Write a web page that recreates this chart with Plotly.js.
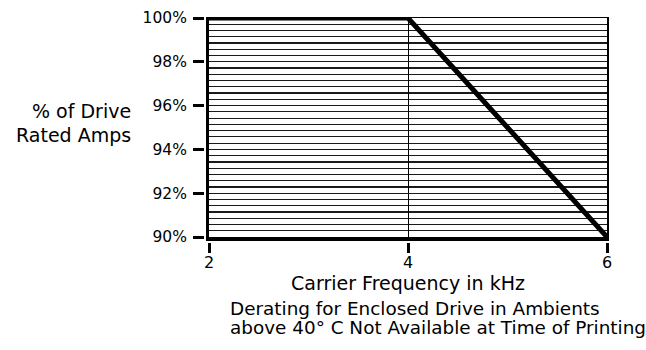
<!DOCTYPE html>
<html>
<head>
<meta charset="utf-8">
<script src="https://cdn.plot.ly/plotly-3.0.1.min.js"></script>
<style>html,body{margin:0;padding:0;background:#fff;}#chart{width:646px;height:350px;}</style>
</head>
<body>
<div id="chart"></div>
<script>
// Data
const frequencyKHz = [2, 4, 6];
const ratedAmpsPct = [100, 100, 90];
const xTickVals = [2, 4, 6];
const xTickText = ['2', '4', '6'];
const yTickVals = [90, 92, 94, 96, 98, 100];
const yTickText = ['90%', '92%', '94%', '96%', '98%', '100%'];
const yLabelLines = ['% of Drive', 'Rated Amps'];
const xTitle = 'Carrier Frequency in kHz';
const noteLines = ['Derating for Enclosed Drive in Ambients', 'above 40\u00b0 C Not Available at Time of Printing'];

const W = 646, H = 350;
const mL = 180, mR = 39, mT = 18, mB = 90;
const pw = W - mL - mR, ph = H - mT - mB;
const px = v => (v - mL) / pw;          // pixel x -> paper x
const py = v => 1 - (v - mT) / ph;      // pixel y -> paper y

const font = {family: 'DejaVu Sans, Arial, sans-serif', color: '#000'};
const xDom = [px(209), 1];
const yDom = [py(237), 1];

const traces = [
  {x: frequencyKHz, y: ratedAmpsPct, type: 'scatter', mode: 'lines',
   line: {color: '#000', width: 5}, cliponaxis: false, hoverinfo: 'none', showlegend: false},
  // invisible carriers so the tick axes and frame axes get drawn
  {x: frequencyKHz, y: ratedAmpsPct, xaxis: 'x2', yaxis: 'y2', type: 'scatter', mode: 'none', hoverinfo: 'none', showlegend: false},
  {x: frequencyKHz, y: ratedAmpsPct, xaxis: 'x3', yaxis: 'y3', type: 'scatter', mode: 'none', hoverinfo: 'none', showlegend: false}
];

const layout = {
  width: W, height: H,
  margin: {l: mL, r: mR, t: mT, b: mB, pad: 0},
  paper_bgcolor: '#fff', plot_bgcolor: '#fff',
  font: Object.assign({size: 15}, font),
  showlegend: false,
  xaxis: {
    domain: xDom, range: [2, 6], tickvals: xTickVals, showticklabels: false, ticks: '',
    showline: true, linewidth: 4, linecolor: '#000', mirror: false,
    showgrid: true, gridcolor: '#000', gridwidth: 1, zeroline: false, fixedrange: true
  },
  yaxis: {
    domain: yDom, range: [90, 100], tick0: 90, dtick: 2, showticklabels: false, ticks: '',
    showline: true, linewidth: 3, linecolor: '#000',
    showgrid: true, gridcolor: '#1a1a1a', gridwidth: 1.2, zeroline: false, fixedrange: true,
    minor: {tick0: 90, dtick: 2 / 7, showgrid: true, gridcolor: '#1a1a1a', gridwidth: 1.2, ticks: ''}
  },
  xaxis2: {
    overlaying: 'x', anchor: 'free', position: py(242), side: 'bottom',
    range: [2, 6], tickvals: xTickVals, ticktext: xTickText,
    ticks: 'outside', ticklen: 10, tickwidth: 3, tickcolor: '#000', ticklabelstandoff: -4,
    showline: false, showgrid: false, zeroline: false, fixedrange: true,
    tickfont: Object.assign({size: 16}, font),
    title: {text: xTitle, font: Object.assign({size: 19}, font), standoff: 3}
  },
  xaxis3: {
    overlaying: 'x', anchor: 'y', side: 'top', range: [2, 6],
    showline: true, linewidth: 1.5, linecolor: '#000', showticklabels: false, ticks: '',
    showgrid: false, zeroline: false, fixedrange: true
  },
  yaxis2: {
    overlaying: 'y', anchor: 'free', position: px(204), side: 'left',
    range: [90, 100], tickvals: yTickVals, ticktext: yTickText,
    ticks: 'outside', ticklen: 11, tickwidth: 3, tickcolor: '#000', ticklabelstandoff: 3,
    showline: false, showgrid: false, zeroline: false, fixedrange: true,
    tickfont: Object.assign({size: 15.5}, font)
  },
  yaxis3: {
    overlaying: 'y', anchor: 'x', side: 'right', range: [90, 100],
    showline: true, linewidth: 2, linecolor: '#000', showticklabels: false, ticks: '',
    showgrid: false, zeroline: false, fixedrange: true
  },
  annotations: [
    {text: yLabelLines[0], xref: 'paper', yref: 'paper', x: px(133), y: py(111), xanchor: 'right', yanchor: 'middle', showarrow: false, font: Object.assign({size: 19}, font)},
    {text: yLabelLines[1], xref: 'paper', yref: 'paper', x: px(133), y: py(135), xanchor: 'right', yanchor: 'middle', showarrow: false, font: Object.assign({size: 19}, font)},
    {text: noteLines[0], xref: 'paper', yref: 'paper', x: px(228), y: py(308), xanchor: 'left', yanchor: 'middle', showarrow: false, font: Object.assign({size: 18.4}, font)},
    {text: noteLines[1], xref: 'paper', yref: 'paper', x: px(228), y: py(327), xanchor: 'left', yanchor: 'middle', showarrow: false, font: Object.assign({size: 18.4}, font)}
  ]
};

Plotly.newPlot('chart', traces, layout, {displayModeBar: false, staticPlot: true});
</script>
</body>
</html>
